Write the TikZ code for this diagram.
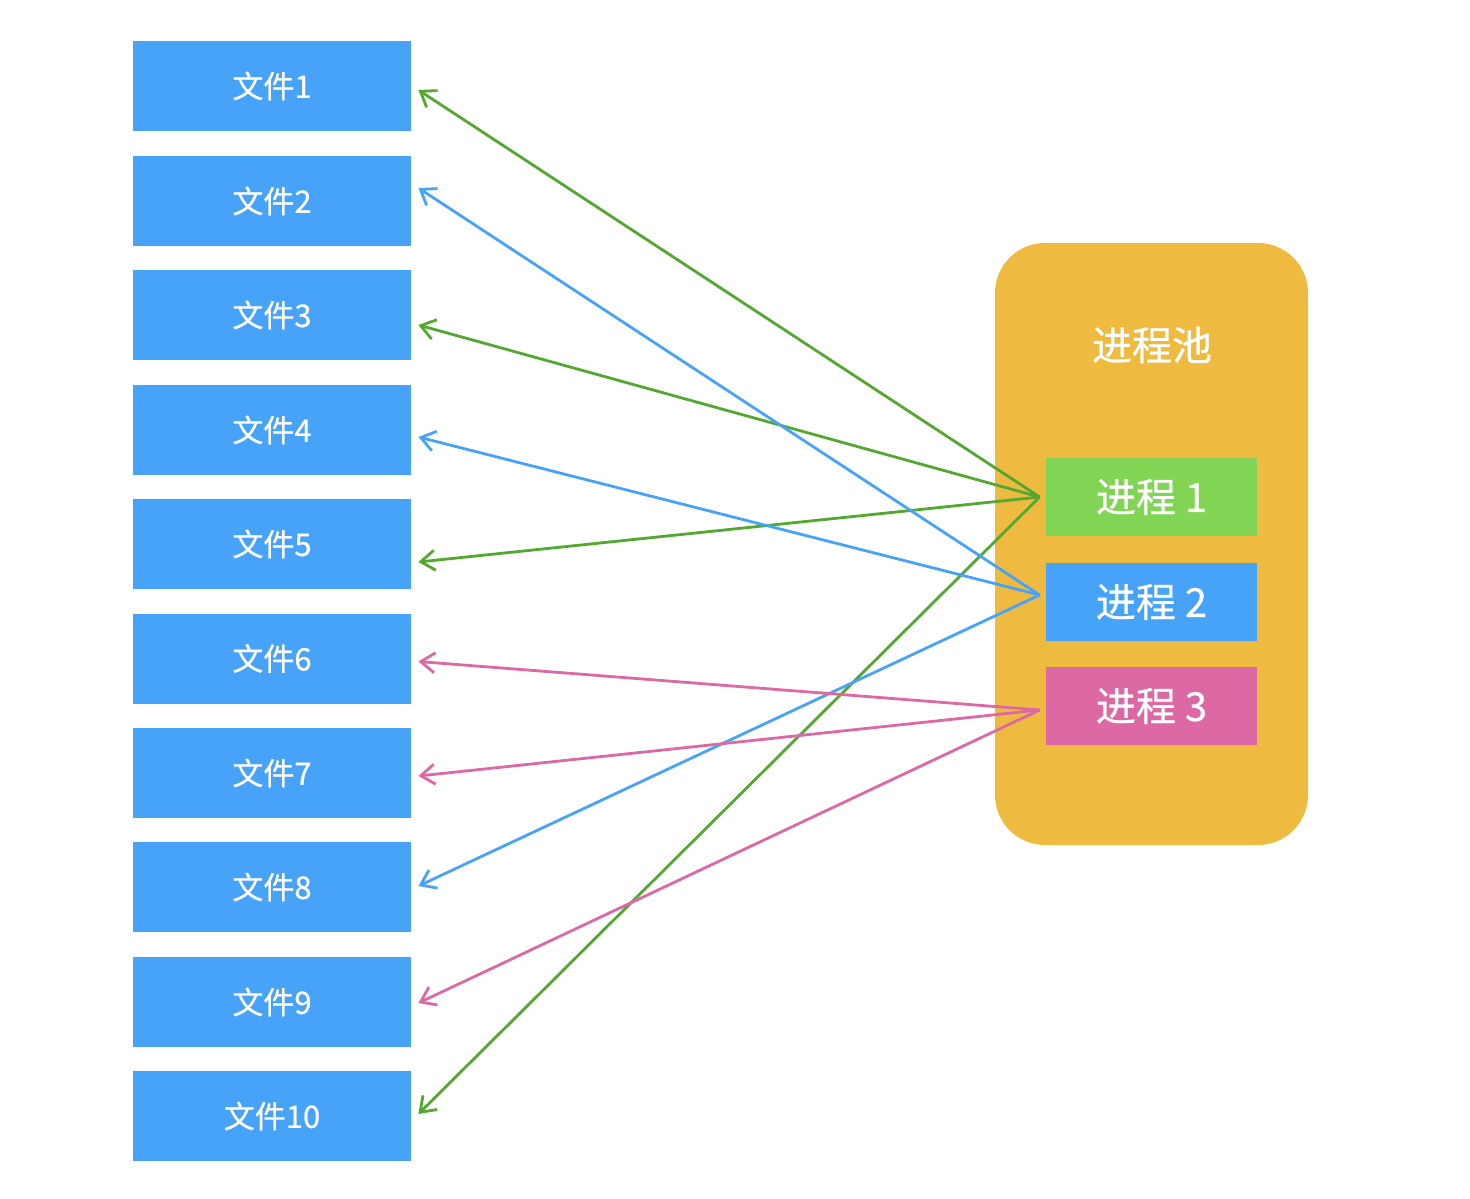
\documentclass[tikz,border=0pt]{standalone}
\usepackage{fontspec}
\setmainfont{Noto Sans CJK SC}
\newfontfamily\cjkm[FakeBold=0.6]{Noto Sans CJK SC}
\usetikzlibrary{arrows.meta,calc}
\definecolor{fblue}{HTML}{47A3F8}
\definecolor{pgreen}{HTML}{82D455}
\definecolor{pool}{HTML}{EEBB40}
\definecolor{ppink}{HTML}{DC69A3}
\definecolor{agreen}{HTML}{52A830}
\tikzset{
  filebox/.style={fill=fblue, minimum width=139pt, minimum height=45pt, inner sep=0pt, text=white, font=\cjkm\fontsize{15.5pt}{17pt}\selectfont},
  procbox/.style={minimum width=105.5pt, minimum height=39pt, inner sep=0pt, text=white, font=\cjkm\fontsize{20pt}{22pt}\selectfont},
  conn/.style={line width=1.4pt, -{Straight Barb[length=7pt,width=10pt,line width=1.4pt]}},
}
\begin{document}
\begin{tikzpicture}[x=0.5pt,y=-0.5pt]
\useasboundingbox (0,0) rectangle (1470,1198);
% files
\foreach \i/\y in {1/86,2/201,3/315,4/430,5/544,6/658.5,7/773,8/887,9/1002,10/1116}{
  \node[filebox] (f\i) at (272,\y) {文件\i};
}
% pool
\fill[pool, rounded corners=25pt] (995,243) rectangle (1308,845);
\node[text=white, font=\cjkm\fontsize{20pt}{22pt}\selectfont] (pooltitle) at (1152,345) {进程池};
\node[procbox, fill=pgreen] (p1) at (1151.5,497) {进程 1};
\node[procbox, fill=fblue] (p2) at (1151.5,602) {进程 2};
\node[procbox, fill=ppink] (p3) at (1151.5,706) {进程 3};
% anchor points
\coordinate (s1) at ($(p1.west)+(-3pt,0)$);
\coordinate (s2) at ($(p2.west)+(-3pt,3.5pt)$);
\coordinate (s3) at ($(p3.west)+(-3pt,-2pt)$);
\foreach \i/\dy in {1/2,2/-6.5,3/5,4/3.5,5/9,6/1.5,7/1.5,8/-0.5,9/0.5,10/-1}{
  \coordinate (t\i) at ($(f\i.east)+(3.5pt,-\dy pt)$);
}
\draw[conn, agreen] (s1) -- (t1);
\draw[conn, agreen] (s1) -- (t3);
\draw[conn, agreen] (s1) -- (t5);
\draw[conn, agreen] (s1) -- (t10);
\draw[conn, fblue] (s2) -- (t2);
\draw[conn, fblue] (s2) -- (t4);
\draw[conn, fblue] (s2) -- (t8);
\draw[conn, ppink] (s3) -- (t6);
\draw[conn, ppink] (s3) -- (t7);
\draw[conn, ppink] (s3) -- (t9);
\end{tikzpicture}
\end{document}
